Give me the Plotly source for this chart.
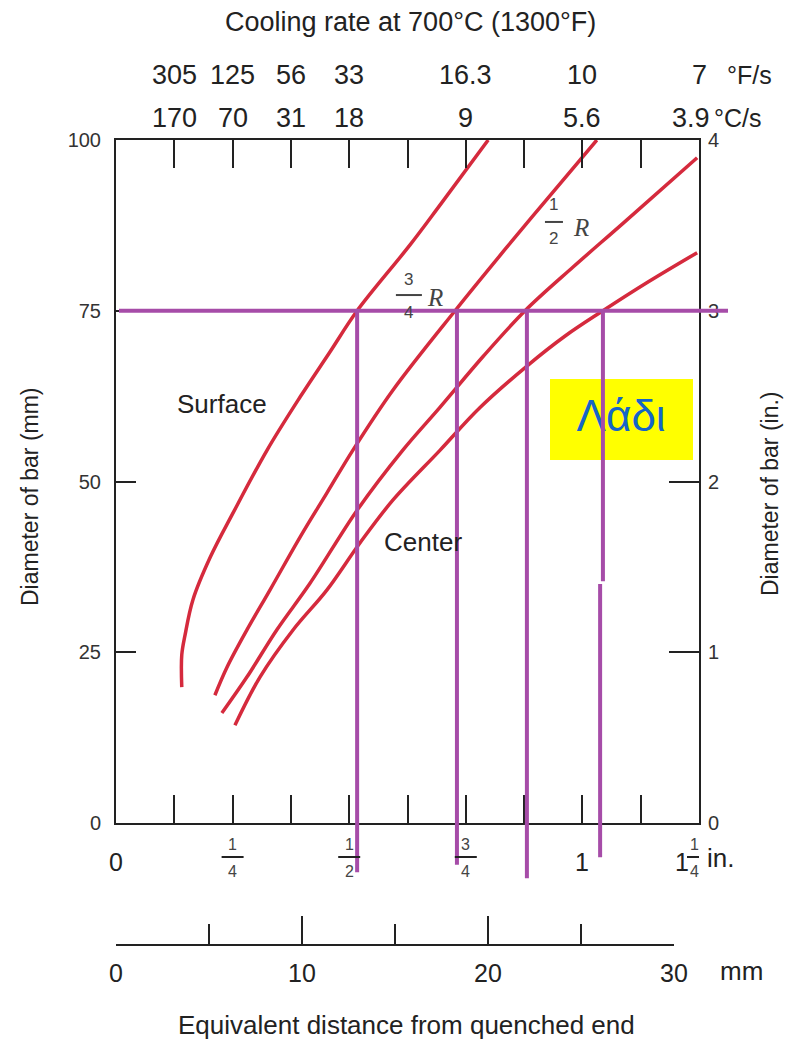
import plotly.graph_objects as go

W, H = 786, 1042

# ---------------- data (distance in inches, diameter in mm) ----------------
surface_x = [0.141, 0.141, 0.148, 0.165, 0.202, 0.251, 0.324, 0.395, 0.459, 0.517, 0.630, 0.695, 0.798]
surface_y = [19.9, 24.6, 27.5, 32.7, 38.9, 45.4, 54.6, 62.4, 69.0, 75.0, 84.6, 90.5, 100.0]

r34_x = [0.212, 0.238, 0.281, 0.330, 0.395, 0.452, 0.508, 0.594, 0.727, 0.838, 0.931, 1.031]
r34_y = [18.7, 22.8, 28.3, 34.1, 41.9, 48.3, 54.6, 63.4, 75.0, 84.3, 91.9, 100.0]

r12_x = [0.227, 0.281, 0.345, 0.416, 0.517, 0.615, 0.695, 0.787, 0.877, 0.980, 1.087, 1.246]
r12_y = [16.1, 21.4, 28.3, 35.1, 45.8, 54.6, 60.9, 68.3, 75.0, 81.4, 87.8, 97.4]

center_x = [0.255, 0.309, 0.380, 0.452, 0.523, 0.594, 0.695, 0.780, 0.881, 0.963, 1.044, 1.138, 1.246]
center_y = [14.3, 21.4, 28.3, 34.1, 41.0, 47.3, 54.6, 60.8, 66.9, 71.3, 75.0, 79.1, 83.5]

# purple construction lines: bar diameter 75 mm, crossings with each curve
target_diameter = 75
cross_x = [0.517, 0.731, 0.881, 1.044]
cross_x_lower = [0.517, 0.731, 0.881, 1.038]
cross_jog = [None, None, None, 35.0]
cross_bottom = [-7.2, -6.1, -8.1, -5.0]

# axes ticks / labels
inch_minor = [k / 8 for k in range(11)]
inch_label_pos = [0, 0.25, 0.5, 0.75, 1.0]
inch_label_text = ["0", ("1", "4"), ("1", "2"), ("3", "4"), "1"]
mm_ticks = [0, 10, 20, 30]
mm_minor = [5, 15, 25]
left_ticks = [0, 25, 50, 75, 100]
right_ticks = [0, 1, 2, 3, 4]
rate_pos = [0.125, 0.25, 0.375, 0.5, 0.75, 1.0, 1.25]
rate_F = ["305", "125", "56", "33", "16.3", "10", "7"]
rate_C = ["170", "70", "31", "18", "9", "5.6", "3.9"]

RED = "#D52A3D"
PURPLE = "#A64CA8"
INK = "#222222"
SANS = "Liberation Sans, Arial, sans-serif"
SERIF = "Liberation Serif, Times New Roman, serif"

# layout geometry (pixels of the 786x1042 page)
XD = [116 / W, 699 / W]
YD = [(H - 823) / H, (H - 140) / H]


def py(p):
    return (H - p) / H


def px(p):
    return p / W


def ypaper(v):
    return YD[0] + v / 100 * (YD[1] - YD[0])


def txt(text, x, y, size, xref="paper", yref="paper", color=INK, family=SANS, **kw):
    d = dict(text=text, x=x, y=y, xref=xref, yref=yref, showarrow=False,
             xanchor=kw.pop("xanchor", "center"), yanchor=kw.pop("yanchor", "middle"),
             font=dict(family=family, size=size, color=color))
    d.update(kw)
    return d


fig = go.Figure()

for xs, ys in [(surface_x, surface_y), (r34_x, r34_y), (r12_x, r12_y), (center_x, center_y)]:
    fig.add_trace(go.Scatter(x=xs, y=ys, mode="lines",
                             line=dict(color=RED, width=3.5, shape="spline", smoothing=1.0),
                             showlegend=False, hoverinfo="skip"))

# "Λάδι" text (under the purple lines)
fig.add_trace(go.Scatter(x=[1.083], y=[59.0], mode="text", text=["Λάδι"],
                         textfont=dict(family=SANS, size=44, color="#1565C8"),
                         showlegend=False, hoverinfo="skip"))

# dummy traces to realise secondary axes
fig.add_trace(go.Scatter(x=[None], y=[None], yaxis="y2", showlegend=False, hoverinfo="skip"))
fig.add_trace(go.Scatter(x=[None], y=[None], xaxis="x3", yaxis="y3", showlegend=False, hoverinfo="skip"))

shapes = []
# yellow label box
shapes.append(dict(type="rect", xref="paper", yref="paper", x0=px(550), x1=px(693), y0=py(460), y1=py(379),
                   fillcolor="#FFFF00", line=dict(width=0), layer="below"))
# purple horizontal line
shapes.append(dict(type="line", xref="paper", yref="y", x0=px(119), x1=px(728),
                   y0=target_diameter, y1=target_diameter,
                   line=dict(color=PURPLE, width=4), layer="above"))
for xu, xl, jog, yb in zip(cross_x, cross_x_lower, cross_jog, cross_bottom):
    if jog is None:
        shapes.append(dict(type="line", xref="x", yref="paper", x0=xu, x1=xu,
                           y0=ypaper(target_diameter), y1=ypaper(yb),
                           line=dict(color=PURPLE, width=4), layer="above"))
    else:
        shapes.append(dict(type="line", xref="x", yref="paper", x0=xu, x1=xu,
                           y0=ypaper(target_diameter), y1=ypaper(jog + 0.4),
                           line=dict(color=PURPLE, width=4), layer="above"))
        shapes.append(dict(type="line", xref="x", yref="paper", x0=xl, x1=xl,
                           y0=ypaper(jog), y1=ypaper(yb),
                           line=dict(color=PURPLE, width=4), layer="above"))

ann = []
# top cooling rate rows
ann.append(txt("Cooling rate at 700°C (1300°F)", px(410), py(22), 27))
for pos, f, c in zip(rate_pos, rate_F, rate_C):
    ann.append(txt(f, pos, py(75), 27, xref="x"))
    ann.append(txt(c, pos, py(118), 27, xref="x", xshift=-8 if pos == 1.25 else 0))
ann.append(txt("°F/s", px(725), py(75), 25, xanchor="left"))
ann.append(txt("°C/s", px(712), py(118), 25, xanchor="left"))

# bottom inch labels
for pos, lab in zip(inch_label_pos, inch_label_text):
    if isinstance(lab, str):
        ann.append(txt(lab, pos, py(862), 25, xref="x"))
    else:
        ann.append(txt(lab[0], pos, py(844), 16, xref="x", color="#444"))
        ann.append(txt(lab[1], pos, py(871), 16, xref="x", color="#444"))
        shapes.append(dict(type="line", xref="x", yref="paper", xsizemode="pixel", xanchor=pos, x0=-11, x1=11,
                           y0=py(857), y1=py(857), line=dict(color=INK, width=2)))
# 1 1/4 in.
ann.append(txt("1", 1.25, py(862), 25, xref="x", xshift=-17))
ann.append(txt("1", 1.25, py(844), 16, xref="x", xshift=-5, color="#444"))
ann.append(txt("4", 1.25, py(871), 16, xref="x", xshift=-5, color="#444"))
shapes.append(dict(type="line", xref="x", yref="paper", xsizemode="pixel", xanchor=1.25, x0=-12, x1=0,
                   y0=py(857), y1=py(857), line=dict(color=INK, width=2)))
ann.append(txt("in.", px(705), py(858), 26, xanchor="left"))

# mm unit and bottom title
ann.append(txt("mm", px(718), py(971), 26, xanchor="left"))
ann.append(txt("Equivalent distance from quenched end", px(406), py(1025), 26))

# axis titles
ann.append(txt("Diameter of bar (mm)", px(30), py(497), 23, textangle=-90))
ann.append(txt("Diameter of bar (in.)", px(770), py(494), 23, textangle=-90))

# curve labels
ann.append(txt("Surface", 0.227, 61.3, 26, xref="x", yref="y"))
ann.append(txt("Center", 0.658, 41.1, 26, xref="x", yref="y"))
# 3/4 R
ann.append(txt("3", 0.628, 79.6, 17, xref="x", yref="y", color="#444"))
ann.append(txt("4", 0.628, 74.8, 17, xref="x", yref="y", color="#444"))
shapes.append(dict(type="line", xref="x", yref="y", xsizemode="pixel", xanchor=0.628, x0=-13, x1=13,
                   y0=77.3, y1=77.3, line=dict(color="#444", width=2)))
ann.append(txt("<i>R</i>", 0.684, 76.9, 25, xref="x", yref="y", color="#444", family=SERIF))
# 1/2 R
ann.append(txt("1", 0.939, 90.5, 17, xref="x", yref="y", color="#444"))
ann.append(txt("2", 0.939, 85.6, 17, xref="x", yref="y", color="#444"))
shapes.append(dict(type="line", xref="x", yref="y", xsizemode="pixel", xanchor=0.939, x0=-9, x1=9,
                   y0=88.0, y1=88.0, line=dict(color="#444", width=2)))
ann.append(txt("<i>R</i>", 0.997, 87.2, 25, xref="x", yref="y", color="#444", family=SERIF))

fig.update_layout(
    template="none",
    width=W, height=H, autosize=False,
    margin=dict(l=0, r=0, t=0, b=0, pad=0, autoexpand=False),
    paper_bgcolor="white", plot_bgcolor="rgba(0,0,0,0)",
    showlegend=False,
    shapes=shapes, annotations=ann,
    xaxis=dict(domain=XD, range=[0, 1.25], tickvals=inch_minor, ticks="inside", ticklen=28, tickwidth=2,
               tickcolor=INK, showline=True, linewidth=2, linecolor=INK, mirror="ticks",
               showticklabels=False, showgrid=False, zeroline=False, anchor="y", automargin=False),
    yaxis=dict(domain=YD, range=[0, 100], tickvals=left_ticks, ticks="inside", ticklen=20, tickwidth=2,
               tickcolor=INK, showline=True, linewidth=2, linecolor=INK, mirror=True,
               showgrid=False, zeroline=False, ticklabelstandoff=9, automargin=False,
               tickfont=dict(family=SANS, size=20, color="#333"), anchor="x"),
    yaxis2=dict(overlaying="y", side="right", range=[0, 4], tickvals=right_ticks, ticks="inside", ticklen=30,
                tickwidth=2, tickcolor=INK, showline=False, showgrid=False, zeroline=False, anchor="x",
                ticklabelstandoff=8, automargin=False, tickfont=dict(family=SANS, size=20, color="#333")),
    xaxis3=dict(domain=[116 / W, 674 / W], range=[0, 30], anchor="free", position=py(945),
                tickvals=mm_ticks, ticks="inside", ticklen=28, tickwidth=2, tickcolor=INK,
                minor=dict(tickvals=mm_minor, ticks="inside", ticklen=20, tickwidth=2, tickcolor=INK),
                showline=True, linewidth=2, linecolor=INK, showgrid=False, zeroline=False,
                ticklabelstandoff=6, automargin=False, tickfont=dict(family=SANS, size=25, color=INK)),
    yaxis3=dict(domain=[0, 0.05], visible=False, range=[0, 1]),
)

fig.write_html("out.html")
